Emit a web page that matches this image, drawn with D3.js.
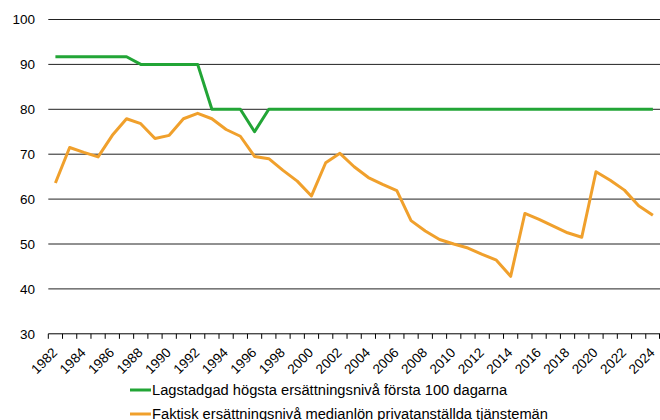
<!DOCTYPE html>
<html>
<head>
<meta charset="utf-8">
<script src="https://cdn.jsdelivr.net/npm/d3@7"></script>
<style>
  html, body { margin: 0; padding: 0; background: #fff; }
  svg text { font-family: "Liberation Sans", Arial, sans-serif; fill: #000; }
</style>
</head>
<body>
<svg id="chart" width="660" height="420"></svg>
<script>
// Years on the category axis
const years = d3.range(1982, 2025);

// Statutory maximum replacement rate, first 100 days (%)
const lagstadgad = [
  91.7, 91.7, 91.7, 91.7, 91.7, 91.7, // 1982-1987
  90, 90, 90, 90, 90,                 // 1988-1992
  80, 80, 80, 75,                     // 1993-1996
  80, 80, 80, 80, 80, 80, 80, 80, 80, 80, 80, 80, 80, 80, 80, // 1997-2010
  80, 80, 80, 80, 80, 80, 80, 80, 80, 80, 80, 80, 80, 80      // 2011-2024
];

// Actual replacement rate at median wage, private-sector salaried employees (%)
const faktisk = [
  63.6, 71.5, 70.4, 69.4, 74.2, 77.9, 76.8, 73.5, 74.2, 77.9, // 1982-1991
  79.1, 77.9, 75.5, 74.0, 69.5, 69.0, 66.4, 64.0, 60.7, 68.1, // 1992-2001
  70.2, 67.2, 64.8, 63.3, 61.9, 55.2, 52.9, 51.0, 50.0, 49.1, // 2002-2011
  47.7, 46.4, 42.8, 56.8, 55.5, 54.0, 52.5, 51.5, 66.1, 64.2, // 2012-2021
  62.0, 58.5, 56.4                                            // 2022-2024
];

const yTicks = [30, 40, 50, 60, 70, 80, 90, 100];
const xTickLabels = years.filter(y => (y - 1982) % 2 === 0);

const seriesNames = [
  "Lagstadgad högsta ersättningsnivå första 100 dagarna",
  "Faktisk ersättningsnivå medianlön privatanställda tjänstemän"
];
const seriesColors = ["#22a536", "#f0a02c"];

const svg = d3.select("#chart");
const plot = { left: 48.3, right: 660, top: 19.5, bottom: 333.8 };

const x = d3.scaleBand().domain(years).range([plot.left, plot.right]).paddingInner(0).paddingOuter(0);
const cx = yr => x(yr) + x.bandwidth() / 2;
const y = d3.scaleLinear().domain([30, 100]).range([plot.bottom, plot.top]);

// Horizontal gridlines
svg.append("g")
  .selectAll("line")
  .data(yTicks.filter(t => t > 30))
  .join("line")
  .attr("x1", plot.left).attr("x2", plot.right)
  .attr("y1", d => y(d)).attr("y2", d => y(d))
  .attr("stroke", "#222").attr("stroke-width", 1);

// Y axis labels
svg.append("g")
  .selectAll("text")
  .data(yTicks)
  .join("text")
  .attr("x", 35).attr("y", d => y(d))
  .attr("dy", "0.36em")
  .attr("text-anchor", "end")
  .attr("font-size", 13.5)
  .text(d => d);

// X axis: line with category boundary ticks
const xAxis = svg.append("g");
xAxis.append("line")
  .attr("x1", plot.left).attr("x2", plot.right)
  .attr("y1", y(30)).attr("y2", y(30))
  .attr("stroke", "#000").attr("stroke-width", 1);
xAxis.selectAll("line.tick")
  .data(years.concat([2025]))
  .join("line")
  .attr("class", "tick")
  .attr("x1", d => d === 2025 ? plot.right - 0.5 : x(d))
  .attr("x2", d => d === 2025 ? plot.right - 0.5 : x(d))
  .attr("y1", y(30)).attr("y2", y(30) + 5)
  .attr("stroke", "#000").attr("stroke-width", 1);
xAxis.selectAll("text")
  .data(xTickLabels)
  .join("text")
  .attr("transform", d => `translate(${cx(d) - 4},${y(30) + 13}) rotate(-45)`)
  .attr("text-anchor", "end")
  .attr("dy", "0.7em")
  .attr("font-size", 13.5)
  .text(d => d);

// Series lines
const line = d3.line()
  .x((d, i) => cx(years[i]))
  .y(d => y(d));

[lagstadgad, faktisk].forEach((vals, i) => {
  svg.append("path")
    .datum(vals)
    .attr("fill", "none")
    .attr("stroke", seriesColors[i])
    .attr("stroke-width", 3)
    .attr("stroke-linejoin", "round")
    .attr("d", line);
});

// Legend
const legend = svg.append("g");
seriesNames.forEach((name, i) => {
  const ly = 390 + i * 24;
  legend.append("line")
    .attr("x1", 130).attr("x2", 151)
    .attr("y1", ly).attr("y2", ly)
    .attr("stroke", seriesColors[i]).attr("stroke-width", 3);
  legend.append("text")
    .attr("x", 152).attr("y", ly)
    .attr("dy", "0.36em")
    .attr("font-size", 14.7)
    .text(name);
});
</script>
</body>
</html>
